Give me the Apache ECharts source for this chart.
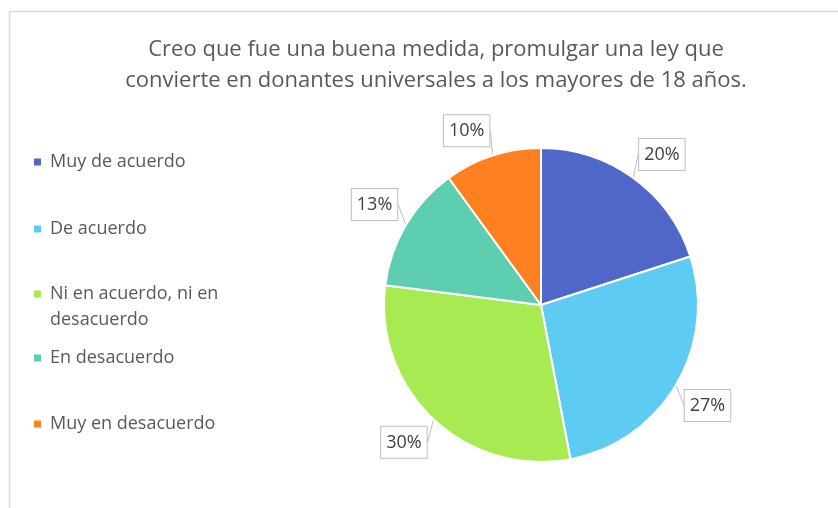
<!DOCTYPE html>
<html>
<head>
<meta charset="utf-8">
<script src="https://cdn.jsdelivr.net/npm/echarts@6/dist/echarts.min.js"></script>
<style>
html,body{margin:0;padding:0;background:#fff;}
#chart{width:838px;height:508px;}
</style>
</head>
<body>
<div id="chart"></div>
<script>
var titleLines = ['Creo que fue una buena medida, promulgar una ley que', 'convierte en donantes universales a los mayores de 18 años.'];
var categories = ['Muy de acuerdo', 'De acuerdo', 'Ni en acuerdo, ni en desacuerdo', 'En desacuerdo', 'Muy en desacuerdo'];
var values = [20, 27, 30, 13, 10];
var colors = ['#4e67c8', '#5ecbf3', '#a7ea52', '#5dceaf', '#ff8021'];

var chart = echarts.init(document.getElementById('chart'), null, {renderer: 'canvas'});
var CX = 541, CY = 305, R = 157, LABEL_R = 167;
var FONT = '"Open Sans", sans-serif';

var legendTops = [152, 219, 281, 348, 414];
var legends = categories.map(function (name, i) {
  var wrapped = name.indexOf(', ni en ') > 0;
  return {
    data: [name],
    orient: 'vertical',
    left: 34,
    top: legendTops[i],
    padding: 0,
    itemWidth: 7,
    itemHeight: wrapped ? 33 : 7,
    icon: wrapped ? 'path://M0,0L7,0L7,7L0,7Z M0,33L7,33' : 'rect',
    itemStyle: {borderWidth: 0},
    selectedMode: false,
    formatter: function (n) { return n.replace(', ni en ', ', ni en\n'); },
    textStyle: {fontFamily: FONT, fontSize: 18, color: '#595959', lineHeight: wrapped ? 26 : 20, padding: [0, 0, 0, 4]}
  };
});

var option = {
  backgroundColor: '#ffffff',
  color: colors,
  animation: false,
  title: {
    text: titleLines.join('\n'),
    left: 431,
    top: 29,
    textAlign: 'center',
    textStyle: {fontFamily: FONT, fontSize: 22, fontWeight: 'normal', color: '#595959', lineHeight: 31}
  },
  legend: legends,
  graphic: [{
    type: 'polyline',
    shape: {points: [[9.5, 508], [9.5, 11.5], [838, 11.5]]},
    style: {stroke: '#d9d9d9', lineWidth: 1.5, fill: null},
    silent: true
  }],
  series: [{
    type: 'pie',
    center: [CX, CY],
    radius: R,
    startAngle: 90,
    clockwise: true,
    data: categories.map(function (c, i) { return {name: c, value: values[i]}; }),
    itemStyle: {borderColor: '#ffffff', borderWidth: 2},
    label: {
      show: true,
      position: 'outside',
      formatter: function (p) { return p.value + '%'; },
      fontFamily: FONT,
      fontSize: 18,
      lineHeight: 20,
      color: '#404040',
      backgroundColor: '#ffffff',
      borderColor: '#bfbfbf',
      borderWidth: 1,
      padding: [6, 5, 5, 5]
    },
    labelLine: {show: true, length: 6, length2: 0, lineStyle: {color: '#bfbfbf', width: 1}},
    labelLayout: function (p) {
      var pts = p.labelLinePoints;
      if (!pts) return {};
      var dx = pts[0][0] - CX, dy = pts[0][1] - CY;
      var len = Math.sqrt(dx * dx + dy * dy) || 1;
      return {
        x: CX + dx / len * LABEL_R,
        y: CY + dy / len * LABEL_R,
        align: dx >= 0 ? 'left' : 'right',
        verticalAlign: dy >= 0 ? 'top' : 'bottom'
      };
    },
    emphasis: {disabled: true}
  }]
};
chart.setOption(option);
</script>
</body>
</html>
